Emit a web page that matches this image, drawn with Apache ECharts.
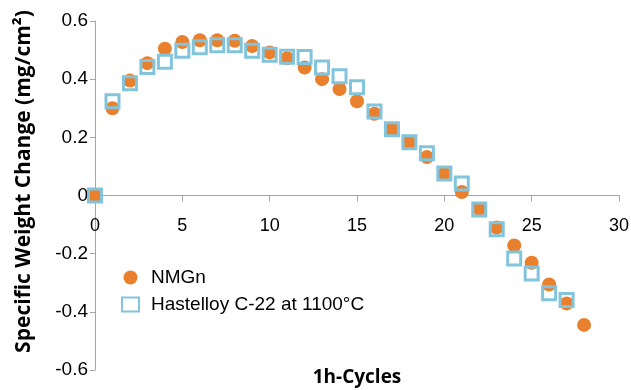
<!DOCTYPE html>
<html>
<head>
<meta charset="utf-8">
<script src="https://cdn.jsdelivr.net/npm/echarts@6/dist/echarts.min.js"></script>
<style>
  html, body { margin: 0; padding: 0; background: #fff; }
  #chart { width: 631px; height: 390px; }
</style>
</head>
<body>
<div id="chart"></div>
<script>
  // 1h cycles and specific weight change (mg/cm2)
  const nmgnCycles = [0, 1, 2, 3, 4, 5, 6, 7, 8, 9, 10, 11, 12, 13, 14, 15, 16, 17, 18, 19, 20, 21, 22, 23, 24, 25, 26, 27, 28];
  const nmgnValues = [0, 0.30, 0.395, 0.455, 0.505, 0.528, 0.534, 0.534, 0.532, 0.514, 0.492, 0.472, 0.44, 0.40, 0.366, 0.324, 0.281, 0.228, 0.182, 0.132, 0.075, 0.012, -0.047, -0.11, -0.172, -0.231, -0.306, -0.371, -0.445];

  const hastelloyCycles = [0, 1, 2, 3, 4, 5, 6, 7, 8, 9, 10, 11, 12, 13, 14, 15, 16, 17, 18, 19, 20, 21, 22, 23, 24, 25, 26, 27];
  const hastelloyValues = [0, 0.324, 0.386, 0.442, 0.46, 0.498, 0.51, 0.517, 0.517, 0.498, 0.484, 0.477, 0.476, 0.44, 0.41, 0.372, 0.289, 0.228, 0.183, 0.145, 0.076, 0.041, -0.048, -0.116, -0.217, -0.268, -0.336, -0.359];

  const seriesNames = ['NMGn', 'Hastelloy C-22 at 1100°C'];

  const axisGray = '#A6A6A6';
  const labelFont = 'Liberation Sans, Arial, sans-serif';
  const titleFont = 'Open Sans, sans-serif';

  const chart = echarts.init(document.getElementById('chart'));

  const option = {
    animation: false,
    backgroundColor: '#fff',
    grid: {
      left: 95,
      right: 12,
      top: 21,
      bottom: 20,
      outerBoundsMode: 'none'
    },
    legend: {
      orient: 'vertical',
      left: 121,
      top: 268,
      padding: 0,
      itemWidth: 17,
      itemHeight: 14,
      itemGap: 8,
      textStyle: { fontFamily: labelFont, fontSize: 19, color: '#000', padding: [0, 0, 0, 7] },
      data: [
        { name: seriesNames[0] },
        { name: seriesNames[1], itemStyle: { borderWidth: 2 } }
      ]
    },
    xAxis: {
      type: 'value',
      min: 0,
      max: 30,
      interval: 5,
      position: 'bottom',
      // the axis crosses y = 0, halfway up the plot
      offset: -174.5,
      name: '1h-Cycles',
      nameLocation: 'middle',
      nameGap: 173,
      nameTextStyle: { fontFamily: titleFont, fontWeight: 'bold', fontSize: 19, color: '#000' },
      axisLine: { onZero: false, lineStyle: { color: axisGray, width: 1 } },
      axisTick: { show: true, length: 6, lineStyle: { color: axisGray } },
      axisLabel: { show: true, margin: 22, fontFamily: labelFont, fontSize: 18, color: '#000' },
      splitLine: { show: false }
    },
    yAxis: {
      type: 'value',
      min: -0.6,
      max: 0.6,
      interval: 0.2,
      name: 'Specific Weight Change (mg/cm²)',
      nameLocation: 'middle',
      nameGap: 60,
      nameTextStyle: { fontFamily: titleFont, fontWeight: 'bold', fontSize: 21, color: '#000', padding: [0, 0, 0, 28] },
      axisLine: { show: true, lineStyle: { color: axisGray, width: 1 } },
      axisTick: { show: true, length: 5, lineStyle: { color: axisGray } },
      axisLabel: { margin: 7, fontFamily: labelFont, fontSize: 19, color: '#000' },
      splitLine: { show: false }
    },
    series: [
      {
        name: seriesNames[0],
        type: 'scatter',
        clip: false,
        symbol: 'circle',
        symbolSize: 14,
        itemStyle: { color: '#E8802E', opacity: 1 },
        data: nmgnCycles.map((c, i) => [c, nmgnValues[i]])
      },
      {
        name: seriesNames[1],
        type: 'scatter',
        clip: false,
        symbol: 'rect',
        symbolSize: 13,
        itemStyle: { color: 'rgba(255,255,255,0)', borderColor: '#82C4DC', borderWidth: 3, opacity: 1 },
        data: hastelloyCycles.map((c, i) => [c, hastelloyValues[i]])
      }
    ]
  };

  chart.setOption(option);
</script>
</body>
</html>
